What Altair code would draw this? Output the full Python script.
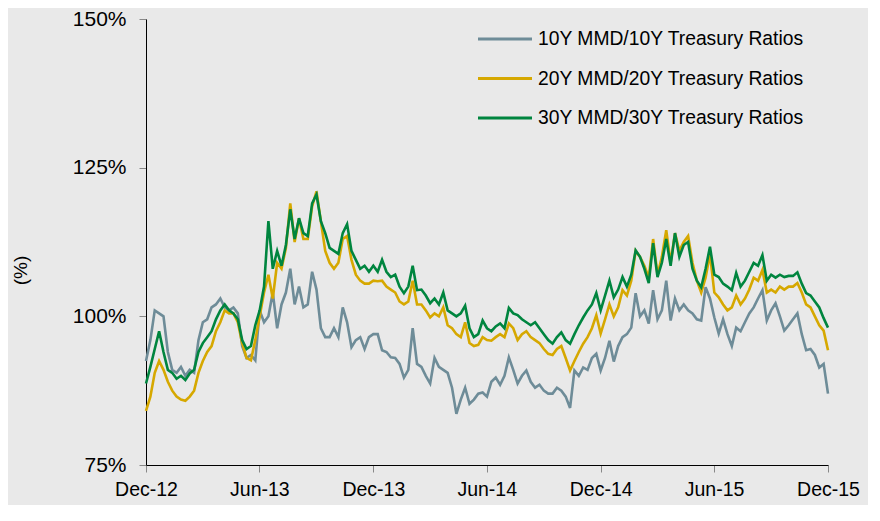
import altair as alt
import pandas as pd

series_names = ["10Y MMD/10Y Treasury Ratios", "20Y MMD/20Y Treasury Ratios", "30Y MMD/30Y Treasury Ratios"]
series_colors = ["#6E8C98", "#D6A800", "#00853F"]
start_date = "2012-12-01"
end_date = "2015-12-01"
x_tick_months = [(2012, 12), (2013, 6), (2013, 12), (2014, 6), (2014, 12), (2015, 6), (2015, 12)]
y_ticks = [75, 100, 125, 150]

# weekly readings (percent), Dec-2012 .. Dec-2015
ratio_10y = [92.5, 96, 101, 100.5, 100, 94, 91, 90.5, 91.5, 90, 91, 90.5, 96, 99, 99.5, 101.5, 102, 103, 101.5, 101,
             101.5, 100.5, 95, 93, 93.5, 92.6, 101, 99, 100, 104, 98, 102, 104, 108, 102, 105, 101.5, 102, 107.5, 104.5,
             98, 96.5, 96.5, 98, 96.5, 101.5, 99, 94.8, 96, 96.5, 94.5, 96.5, 97, 97, 94.3, 94, 93.1, 93, 92, 89.7,
             91, 98, 92, 91.5, 90, 88.7, 93, 91.5, 91, 90.5, 88, 83.6, 86, 88, 85.3, 86, 87, 87.2, 86.5, 89,
             89.7, 88.5, 90, 93.1, 91, 88.7, 90, 90.9, 89, 88, 88.5, 87.5, 87, 87, 88, 87.5, 86.5, 84.6, 90.9, 90,
             91.4, 91, 93, 93.7, 90.9, 93, 95.9, 92.4, 95, 96.5, 97, 98.1, 103.9, 100, 101, 98.8, 104.4, 99.5, 101, 106,
             99.3, 103, 101, 102, 101, 100.5, 99.5, 99.3, 104.9, 103, 99.8, 97.1, 99.5, 97, 95, 98.1, 97.5, 99, 100.5, 101.5,
             103, 104.4, 99.3, 101, 102.2, 100, 97.6, 98.5, 99.5, 100.5, 97, 94.3, 94.5, 93.5, 91.4, 92, 87]
ratio_20y = [84.1, 86.5, 90.5, 92.5, 91, 89, 87.5, 86.5, 86, 85.8, 86.5, 87.5, 90.5, 92.5, 94, 95, 97.5, 99, 101, 100.5,
             100.5, 99, 95.5, 93, 92.6, 96, 100, 104, 107, 103, 109, 108, 111.5, 119, 112.5, 116.5, 113, 113, 118.5, 121,
             116, 111, 109, 108, 109, 113, 113.5, 109.5, 107, 106, 105.5, 105.5, 106, 105.9, 106, 105, 104.5, 104, 102.5, 102,
             102.5, 106, 102, 102, 101, 99.8, 100.5, 100, 101.5, 98.5, 98, 97, 96.5, 99, 95.5, 95, 95.2, 96.5, 96, 95.9,
             96.5, 97, 96.5, 98.8, 98, 96, 97, 97.5, 96.5, 96, 95.5, 94.5, 93.7, 93.5, 94.5, 95, 93, 90.9, 92.5, 94,
             95.4, 96.5, 98, 100.2, 97.1, 99.5, 102, 100, 101.5, 104.4, 103.5, 106, 111, 110, 108.5, 106.5, 113, 107, 110, 114.5,
             109, 114, 111, 112.5, 113.5, 109, 106, 104, 106.5, 110.5, 104, 103.2, 102, 101, 101.5, 103.5, 102, 103, 104.5, 106.5,
             106, 107.8, 104, 104.5, 104, 105, 104.5, 105, 105, 105.6, 104, 102, 101.5, 100, 98.5, 97.6, 94.3]
ratio_30y = [88.7, 91.5, 94.5, 97.5, 94, 91, 90.5, 89.5, 90, 89.3, 90.4, 91, 94, 95.5, 96.5, 97.5, 99.5, 101, 102, 101,
             100.5, 99.5, 96, 94.5, 95, 98.5, 101, 105, 116, 108, 111, 108.5, 112, 118, 113, 116.5, 114, 113.5, 119, 120.5,
             116, 114, 111.5, 111, 110.5, 114, 115.5, 111, 109.5, 108, 108.5, 107.5, 108.5, 107.5, 109.5, 107.5, 106.6, 107, 105, 103.9,
             105, 108.5, 104.4, 104.5, 103.5, 102.2, 103, 102, 104, 101, 100.5, 100, 100.5, 101.8, 98, 96.5, 97, 99.3, 98, 97.5,
             98.3, 98.8, 98, 101.4, 100.5, 100.2, 99.5, 99, 98.5, 99, 98, 97, 96, 95.4, 96.5, 97.3, 96, 95.4, 97, 98.5,
             99.8, 101, 102, 103.9, 101, 103.5, 106, 103.2, 104.5, 106.6, 105, 107, 111.1, 110, 108, 105.6, 112.3, 106.6, 109, 113,
             108.5, 114, 110, 112, 112.5, 108, 106, 104.9, 108, 111.7, 107, 106.6, 105.5, 105, 104.4, 107.3, 105, 106, 107.5, 109,
             108.5, 110.3, 106, 107, 106.5, 107, 106.6, 106.8, 106.8, 107.4, 105.5, 103.9, 103.5, 102.5, 101.5, 99.7, 98.1]

dates = pd.date_range(start_date, end_date, periods=len(ratio_10y))
frames = []
for name, vals in zip(series_names, [ratio_10y, ratio_20y, ratio_30y]):
    frames.append(pd.DataFrame({"date": dates, "value": vals, "series": name}))
df = pd.concat(frames, ignore_index=True)
legend_df = pd.DataFrame({"series": series_names})

font = "Liberation Sans"
color_scale = alt.Scale(domain=series_names, range=series_colors)

lines = alt.Chart(df).mark_line(strokeWidth=2.6, strokeJoin="miter").encode(
    x=alt.X("date:T",
            scale=alt.Scale(domain=[alt.DateTime(year=2012, month=12, date=1),
                                    alt.DateTime(year=2015, month=12, date=1)]),
            axis=alt.Axis(values=[alt.DateTime(year=y, month=m, date=1) for y, m in x_tick_months],
                          format="%b-%y", title=None, labelFlush=False, labelOverlap=False,
                          labelFontSize=19.5, labelColor="#000000", labelFont=font,
                          tickSize=7, tickColor="#888888", labelPadding=8,
                          domainColor="#000000", grid=False)),
    y=alt.Y("value:Q", scale=alt.Scale(domain=[75, 150]),
            axis=alt.Axis(values=y_ticks, labelExpr="datum.value + '%'", title="(%)",
                          titleFontSize=19, titleFontWeight="normal", titleFont=font, titleColor="#000000",
                          titleX=-116, titleY=251, titleAngle=270,
                          labelFontSize=21, labelColor="#000000", labelFont=font,
                          tickSize=7, tickColor="#888888", labelPadding=13,
                          domainColor="#000000", grid=False)),
    color=alt.Color("series:N", scale=color_scale, legend=None),
    detail="series:N",
)

legend_y = alt.Y("series:N", scale=alt.Scale(type="point", domain=series_names, range=[20, 99], padding=0), axis=None)

legend_rules = alt.Chart(legend_df).mark_rule(strokeWidth=3).encode(
    x=alt.value(332), x2=alt.value(386), y=legend_y,
    color=alt.Color("series:N", scale=color_scale, legend=None),
)
legend_text = alt.Chart(legend_df).mark_text(align="left", baseline="middle", fontSize=19.3, font=font,
                                              color="#000000").encode(
    x=alt.value(392), y=legend_y, text="series:N",
)

chart = alt.layer(lines, legend_rules, legend_text).resolve_scale(y="independent").properties(
    width=682, height=446,
    background="#E9E9E9",
    padding={"left": 138, "top": 11, "right": 40, "bottom": 40},
    autosize=alt.AutoSizeParams(type="none"),
).configure_view(stroke=None)

chart.save("out.html", embed_options={"renderer": "svg", "actions": False})
